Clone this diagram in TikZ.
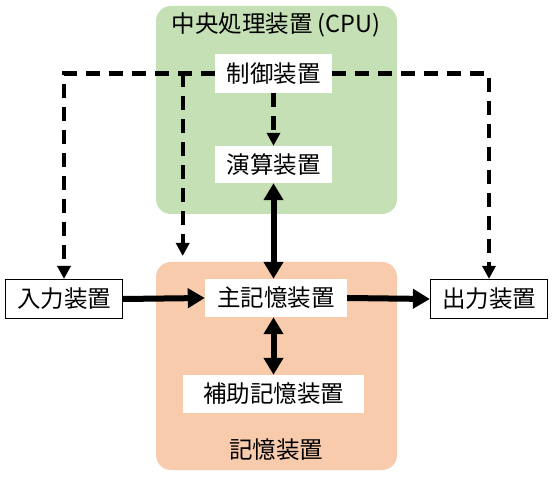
\documentclass[tikz,border=0pt]{standalone}
\usepackage{fontspec}
\setmainfont{Noto Sans CJK JP}
\usetikzlibrary{arrows.meta}
\definecolor{cpugreen}{HTML}{C5E0B4}
\definecolor{memorange}{HTML}{F8CBAD}
\tikzset{
  group/.style={rounded corners=15pt},
  unit/.style={fill=white, inner sep=0pt, font=\fontsize{23.5}{27}\selectfont},
  iobox/.style={draw=black, line width=1.2pt, fill=white, inner sep=0pt, font=\fontsize{23.5}{27}\selectfont},
  lbl/.style={inner sep=0pt, font=\fontsize{23.5}{27}\selectfont},
  ctl/.style={line width=4.2pt, dash pattern=on 14pt off 9pt, -{Triangle[length=13pt,width=13pt]}},
  data/.style={line width=6pt, -{Triangle[length=17pt,width=19pt]}},
  data2/.style={line width=6pt, {Triangle[length=17pt,width=19pt]}-{Triangle[length=17pt,width=19pt]}},
}
\begin{document}
\begin{tikzpicture}[x=1pt,y=-1pt]
\useasboundingbox (0,0) rectangle (552,478);
\fill[cpugreen, group] (156,6) rectangle (397,214);
\fill[memorange, group] (156,262) rectangle (397,470);
\node[lbl] (cpulbl) at (276,25) {中央処理装置 (CPU)};
\node[lbl] (memlbl) at (276,450) {記憶装置};
\node[unit, minimum width=117pt, minimum height=39pt] (ctrl) at (273.5,73.5) {制御装置};
\node[unit, minimum width=117pt, minimum height=37pt] (alu) at (273.5,164.5) {演算装置};
\node[unit, minimum width=142pt, minimum height=38pt] (main) at (276,298) {主記憶装置};
\node[unit, minimum width=181pt, minimum height=38pt] (aux) at (273.5,394) {補助記憶装置};
\node[iobox, minimum width=117pt, minimum height=39pt] (in) at (64,299) {入力装置};
\node[iobox, minimum width=117pt, minimum height=39pt] (out) at (489,299) {出力装置};
\coordinate (br) at (182.7,73.5);
\coordinate (brend) at (182.7,256);
% control lines
\draw[ctl] (ctrl.west) -| (in.north);
\draw[ctl] (ctrl.east) -| (out.north);
\draw[ctl] (br) -- (brend);
\draw[ctl] (ctrl.south) -- (alu.north);
% data lines
\draw[data2] (alu.south) -- (main.north -| alu.south);
\draw[data2] (main.south -| aux.north) -- (aux.north);
\draw[data] (in.east) -- (main.west);
\draw[data] (main.east) -- (out.west);
\end{tikzpicture}
\end{document}
